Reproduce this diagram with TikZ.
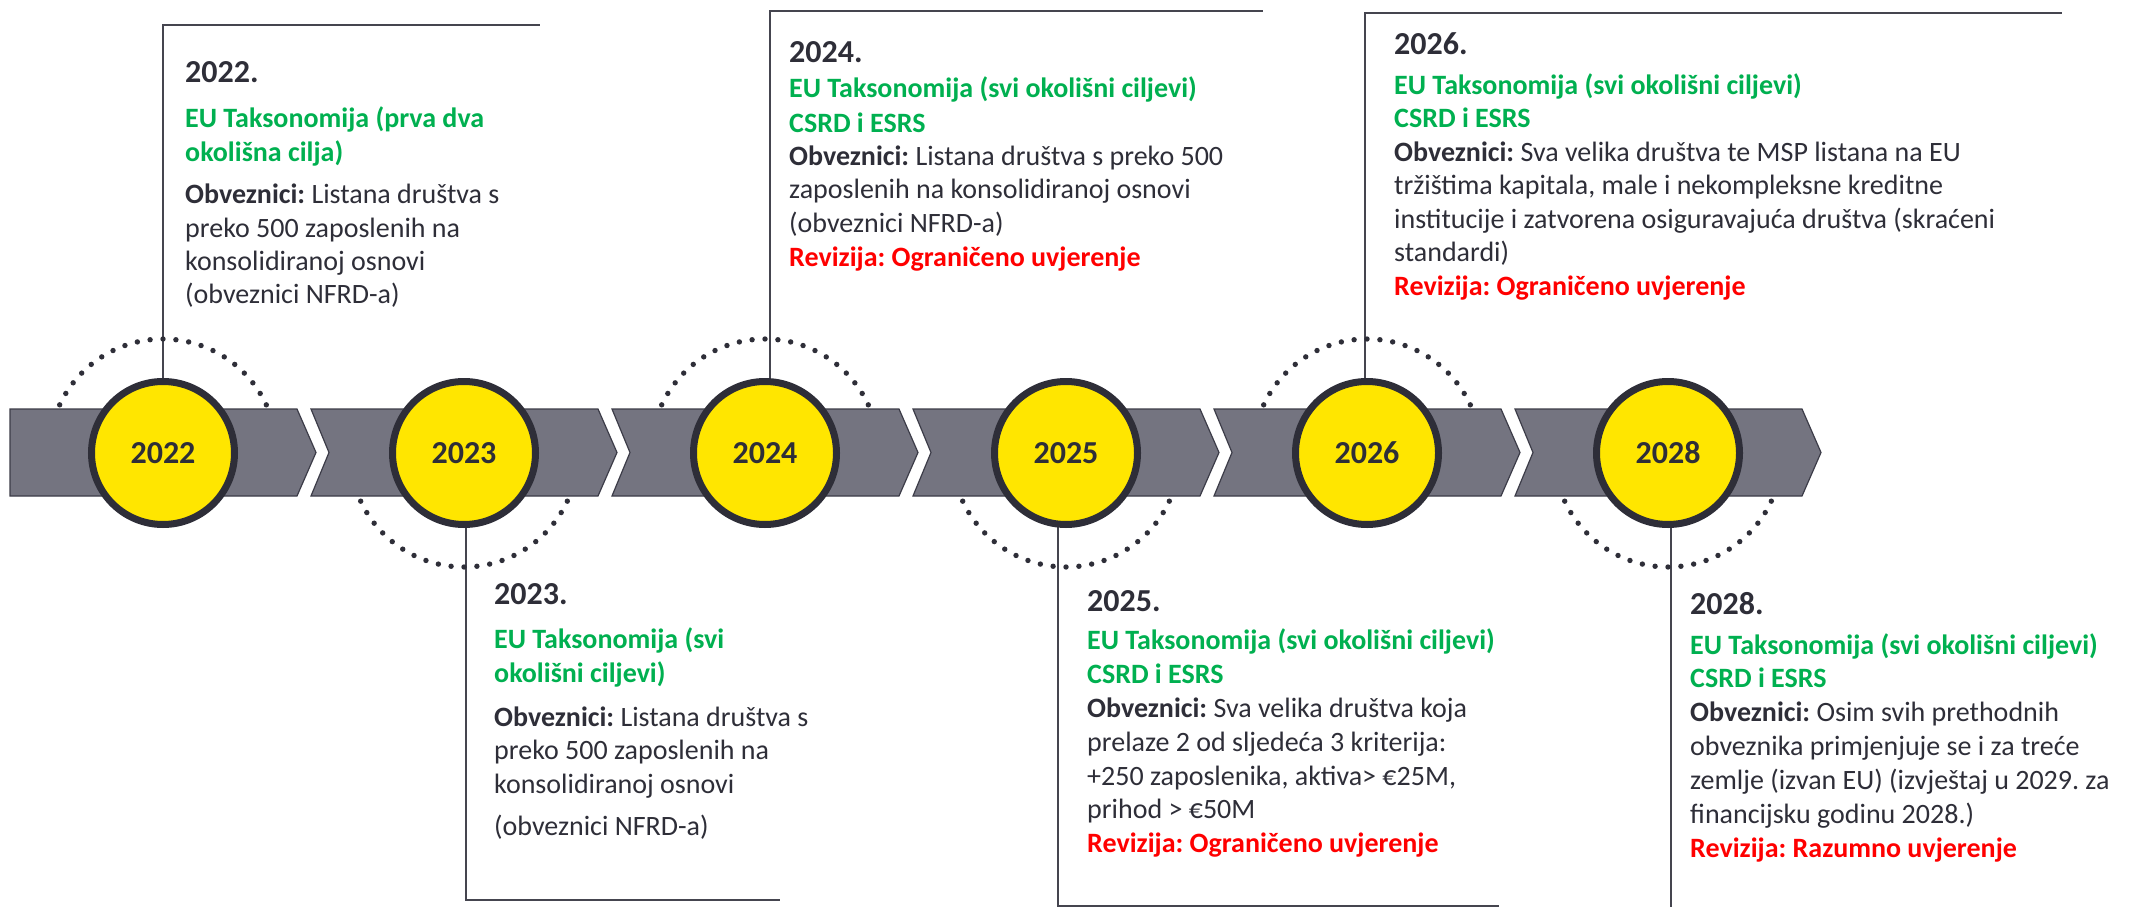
\documentclass[tikz,border=0pt]{standalone}
\usepackage{fontspec}
\setmainfont{Carlito}
\frenchspacing
\definecolor{dark}{HTML}{2E2E38}
\definecolor{bandgray}{HTML}{747480}
\definecolor{bandline}{HTML}{3C3C48}
\definecolor{conncol}{HTML}{45454F}
\definecolor{eyellow}{HTML}{FFE600}
\definecolor{egreen}{HTML}{00B050}
\definecolor{ered}{HTML}{FF0000}
\pgfdeclarelayer{background}
\pgfsetlayers{background,main}
\newcommand\Yr[1]{{\fontsize{32}{34}\selectfont\bfseries #1}}
\newcommand\Gr[1]{{\color{egreen}\bfseries #1}}
\newcommand\Rd[1]{{\color{ered}\bfseries #1}}
\newcommand\Ob{\textbf{Obveznici:}}
\newcommand\Fl[1]{\hbox{\smash{#1}}}
\newcommand\Ln[2]{\vskip#1\hbox{\smash{#2}}}
\tikzset{
  band/.style={fill=bandgray, draw=bandline, line width=1.2pt, line join=miter},
  yearcirc/.style={circle, minimum size=143pt, inner sep=0pt, fill=eyellow, draw=dark, line width=7pt, text=dark, font=\fontsize{32}{34}\selectfont\bfseries},
  conn/.style={draw=conncol, line width=2pt},
  dotc/.style={fill=dark},
  txt/.style={inner sep=0pt, anchor=base west, text=dark, font=\fontsize{28}{34}\selectfont\frenchspacing}
}
\begin{document}
\begin{tikzpicture}[x=1pt,y=-1pt]
\useasboundingbox (0,0) rectangle (2137,907);

% year circles
\node[yearcirc] (c22) at (163,453) {2022};
\node[yearcirc] (c23) at (464,453) {2023};
\node[yearcirc] (c24) at (765,453) {2024};
\node[yearcirc] (c25) at (1066,453) {2025};
\node[yearcirc] (c26) at (1367,453) {2026};
\node[yearcirc] (c28) at (1668,453) {2028};

% box corner coordinates
\coordinate (k22) at (163,25);  \coordinate (e22) at (540,25);
\coordinate (k23) at (466,900); \coordinate (e23) at (780,900);
\coordinate (k24) at (770,11);  \coordinate (e24) at (1263,11);
\coordinate (k25) at (1058,906);\coordinate (e25) at (1499,906);
\coordinate (k26) at (1365,13); \coordinate (e26) at (2062,13);
\coordinate (k28) at (1671,907);

\begin{pgfonlayer}{background}
  \fill[white] (0,0) rectangle (2137,907);
  % chevron band
  \path[band] (10,409) -- (297,409) -- (316,452.5) -- (297,496) -- (10,496) -- cycle;
  \foreach \i in {1,...,5}{
    \pgfmathsetmacro\L{10+301*\i}
    \pgfmathsetmacro\R{297+301*\i}
    \path[band] (\L,409) -- (\R,409) -- ({\R+19},452.5) -- (\R,496) -- (\L,496) -- ({\L+18},452.5) -- cycle;
  }
  % connectors
  \draw[conn] (c22.center -| k22) -- (k22) -- (e22);
  \draw[conn] (c23.center -| k23) -- (k23) -- (e23);
  \draw[conn] (c24.center -| k24) -- (k24) -- (e24);
  \draw[conn] (c25.center -| k25) -- (k25) -- (e25);
  \draw[conn] (c26.center -| k26) -- (k26) -- (e26);
  \draw[conn] (c28.center -| k28) -- (k28);
\end{pgfonlayer}

% dotted arcs
\foreach \c in {c22,c24,c26}{
  \foreach \k in {0,...,20}{
    \fill[dotc] (\c.center) ++({114*cos(25+6.5*\k)},{-114*sin(25+6.5*\k)}) circle (2.7pt);
  }
}
\foreach \c in {c23,c25,c28}{
  \foreach \k in {0,...,20}{
    \fill[dotc] (\c.center) ++({114*cos(25+6.5*\k)},{114*sin(25+6.5*\k)}) circle (2.7pt);
  }
}

% text blocks
\node[txt] (t22) at (185,83) {\vtop{\offinterlineskip
  \Fl{\Yr{2022.}}
  \Ln{45pt}{\Gr{EU Taksonomija (prva dva}}
  \Ln{33pt}{\Gr{okolišna cilja)}}
  \Ln{42pt}{\Ob{} Listana društva s}
  \Ln{34pt}{preko 500 zaposlenih na}
  \Ln{34pt}{konsolidiranoj osnovi}
  \Ln{33pt}{(obveznici NFRD-a)}}};

\node[txt] (t23) at (494,604) {\vtop{\offinterlineskip
  \Fl{\Yr{2023.}}
  \Ln{44pt}{\Gr{EU Taksonomija (svi}}
  \Ln{34pt}{\Gr{okolišni ciljevi)}}
  \Ln{44pt}{\Ob{} Listana društva s}
  \Ln{33pt}{preko 500 zaposlenih na}
  \Ln{34pt}{konsolidiranoj osnovi}
  \Ln{42pt}{(obveznici NFRD-a)}}};

\node[txt] (t24) at (789,63) {\vtop{\offinterlineskip
  \Fl{\Yr{2024.}}
  \Ln{35pt}{\Gr{EU Taksonomija (svi okolišni ciljevi)}}
  \Ln{35pt}{\Gr{CSRD i ESRS}}
  \Ln{33pt}{\Ob{} Listana društva s preko 500}
  \Ln{33pt}{zaposlenih na konsolidiranoj osnovi}
  \Ln{34pt}{(obveznici NFRD-a)}
  \Ln{34pt}{\Rd{Revizija: Ograničeno uvjerenje}}}};

\node[txt] (t25) at (1087,611) {\vtop{\offinterlineskip
  \Fl{\Yr{2025.}}
  \Ln{38pt}{\Gr{EU Taksonomija (svi okolišni ciljevi)}}
  \Ln{34pt}{\Gr{CSRD i ESRS}}
  \Ln{34pt}{\Ob{} Sva velika društva koja}
  \Ln{34pt}{prelaze 2 od sljedeća 3 kriterija:}
  \Ln{34pt}{+250 zaposlenika, aktiva> €25M,}
  \Ln{33pt}{prihod > €50M}
  \Ln{34pt}{\Rd{Revizija: Ograničeno uvjerenje}}}};

\node[txt] (t26) at (1394,55) {\vtop{\offinterlineskip
  \Fl{\Yr{2026.}}
  \Ln{40pt}{\Gr{EU Taksonomija (svi okolišni ciljevi)}}
  \Ln{33pt}{\Gr{CSRD i ESRS}}
  \Ln{34pt}{\Ob{} Sva velika društva te MSP listana na EU}
  \Ln{33pt}{tržištima kapitala, male i nekompleksne kreditne}
  \Ln{34pt}{institucije i zatvorena osiguravajuća društva (skraćeni}
  \Ln{33pt}{standardi)}
  \Ln{34pt}{\Rd{Revizija: Ograničeno uvjerenje}}}};

\node[txt] (t28) at (1690,614) {\vtop{\offinterlineskip
  \Fl{\Yr{2028.}}
  \Ln{40pt}{\Gr{EU Taksonomija (svi okolišni ciljevi)}}
  \Ln{33pt}{\Gr{CSRD i ESRS}}
  \Ln{34pt}{\Ob{} Osim svih prethodnih}
  \Ln{34pt}{obveznika primjenjuje se i za treće}
  \Ln{34pt}{zemlje (izvan EU) (izvještaj u 2029. za}
  \Ln{34pt}{financijsku godinu 2028.)}
  \Ln{34pt}{\Rd{Revizija: Razumno uvjerenje}}}};
\end{tikzpicture}
\end{document}
